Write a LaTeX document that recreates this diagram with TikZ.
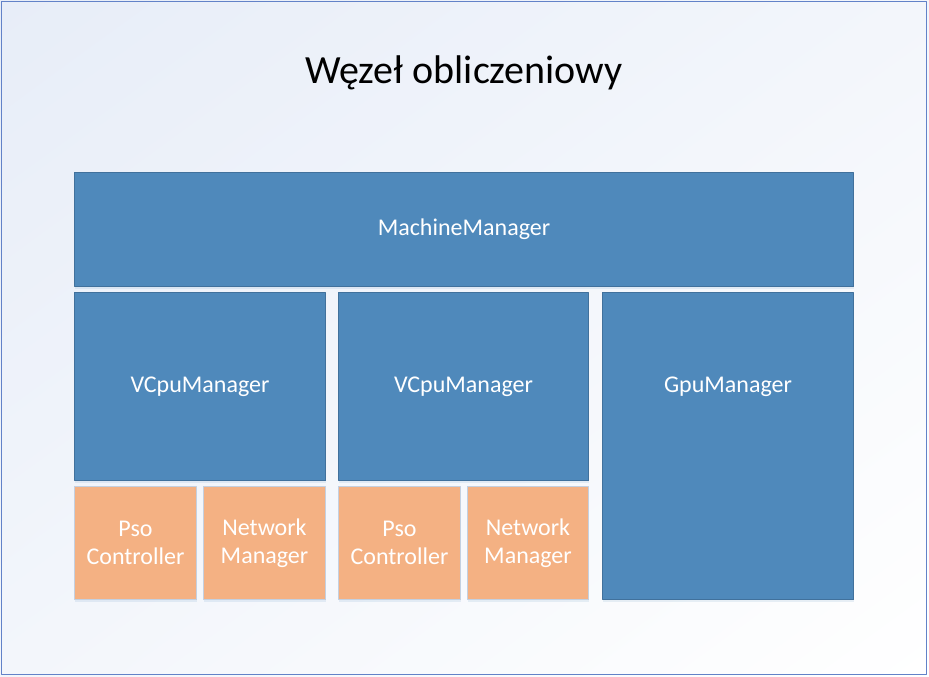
\documentclass[tikz,border=0pt]{standalone}
\usepackage{fontspec}
\setmainfont{Carlito}
\usetikzlibrary{shadows,shadings}
\definecolor{mgrblue}{RGB}{79,137,187}
\definecolor{mgrborder}{RGB}{65,113,156}
\definecolor{ctrlorange}{RGB}{244,177,131}
\definecolor{ctrlborder}{RGB}{196,208,224}
\definecolor{frameblue}{RGB}{98,130,200}
\definecolor{bgtop}{RGB}{231,237,248}
\definecolor{bgmid}{RGB}{243,246,251}
\begin{document}
\begin{tikzpicture}[x=1pt, y=-1pt, line join=round,
	box/.style={anchor=north west, inner sep=0pt, line width=1pt, text=white,
		drop shadow={shadow xshift=0pt, shadow yshift=-2pt, opacity=0.12, fill=mgrblue}},
	mgr/.style={box, draw=mgrborder, fill=mgrblue, font=\fontsize{24}{28}\selectfont},
	ctrl/.style={box, draw=ctrlborder, fill=ctrlorange, align=center, font=\fontsize{24}{28}\selectfont},
	lbl/.style={text=white, inner sep=0pt, font=\fontsize{24}{28}\selectfont}]
	\useasboundingbox (0,0) rectangle (929,677);
	% tlo i ramka
	\shade[upper left=bgtop, upper right=bgmid, lower left=bgmid, lower right=white] (0,0) rectangle (929,677);
	\draw[frameblue, line width=1.5pt] (1.5,1.5) rectangle (926.5,674.5);
	\node[font=\fontsize{40}{46}\selectfont] (title) at (464,73) {Węzeł obliczeniowy};
	% menedzery
	\node[mgr, minimum width=779pt, minimum height=114pt] (machine) at (74,172) {MachineManager};
	\node[mgr, minimum width=251pt, minimum height=188pt] (vcpuA) at (74,292) {VCpuManager};
	\node[mgr, minimum width=250pt, minimum height=188pt] (vcpuB) at (338,292) {VCpuManager};
	\node[mgr, minimum width=251pt, minimum height=307pt] (gpu) at (602,292) {};
	\node[lbl] (gpulbl) at (gpu.center |- vcpuA.center) {GpuManager};
	% kontrolery
	\node[ctrl, minimum width=122pt, minimum height=113pt] (psoA) at (74,486) {Pso\\Controller};
	\node[ctrl, minimum width=122pt, minimum height=113pt] (netA) at (203,486) {Network\\Manager};
	\node[ctrl, minimum width=122pt, minimum height=113pt] (psoB) at (338,486) {Pso\\Controller};
	\node[ctrl, minimum width=121pt, minimum height=113pt] (netB) at (467,486) {Network\\Manager};
\end{tikzpicture}
\end{document}
